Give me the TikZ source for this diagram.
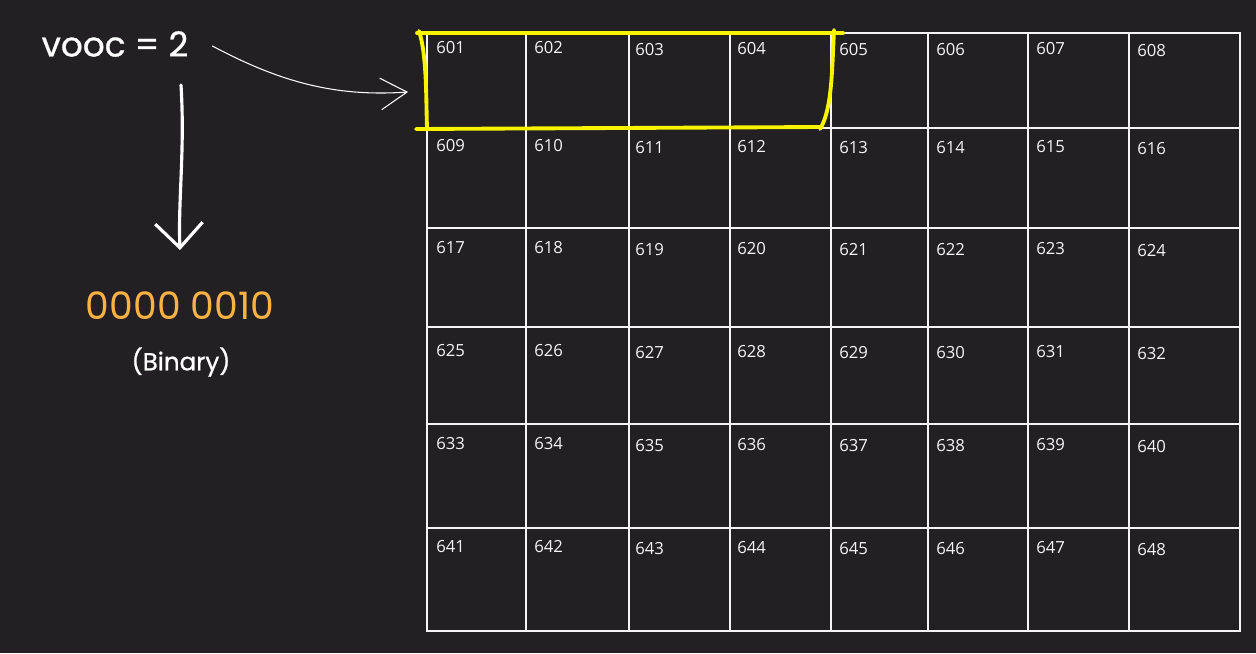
\documentclass[tikz,border=0pt]{standalone}
\usepackage{fontspec}
\setmainfont{Poppins}
\newfontfamily\cellfont{Open Sans}
\newfontfamily\chalkfont[FakeBold=0.8]{Poppins}
\usetikzlibrary{arrows.meta}
\definecolor{boardbg}{RGB}{34,32,34}
\definecolor{binorange}{RGB}{250,178,66}
\definecolor{markyellow}{RGB}{248,244,0}

\begin{document}
\begin{tikzpicture}[x=0.02cm,y=-0.02cm,
		gridline/.style={draw=white!92!gray,line width=1.1pt},
		cellnum/.style={anchor=north west,inner sep=0pt,text=white!92!gray,
		                font=\cellfont\fontsize{9.5}{10}\selectfont},
		chalk/.style={draw=white,line cap=round,line join=round}]
		\fill[boardbg] (0,0) rectangle (1256,653);
		
		% memory cells
		\foreach \ya/\yb/\ry [count=\j] in {33/128/8,128/228/11,228/327/13,327/424/17,424/528/13,528/631/12}
		\foreach \xa/\xb/\cx/\cy [count=\i] in {427/526/9/0,526/629/8/0,629/730/6/2,730/831/7/1,
		                                       831/928/8/2,928/1028/8/2,1028/1129/8/1,1129/1240/8/3}
		{
			\pgfmathtruncatemacro{\addr}{600+(\j-1)*8+\i}
			\draw[gridline] (\xa,\ya) rectangle (\xb,\yb);
			\node[cellnum] (c\addr) at (\xa+\cx,\ya+\ry+\cy) {\addr};
		}
		
		% the variable and its bits
		\begin{scope}[every node/.style={text=white,inner sep=1pt}]
			\node[font=\chalkfont\fontsize{19.5}{24}\selectfont] (vooc) at (115,44) {vooc = 2};
			\node[text=binorange,font=\fontsize{21.5}{24}\selectfont] (bits) at (180,306) {0000 0010};
			\node[font=\chalkfont\fontsize{14}{16}\selectfont] (binname) at (181,362) {(Binary)};
		\end{scope}
		
		\coordinate (downfrom) at (181,85);
		\coordinate (downto) at (180,250);
		\coordinate (cellsin) at (408,92);
		
		% hand drawn arrows
		\draw[chalk,line width=1.8pt,-{Straight Barb[length=14pt,width=27pt]}]
			(downfrom) .. controls (185,150) and (178,200) .. (downto);
		\draw[chalk,line width=0.6pt,-{Straight Barb[length=15pt,width=18pt]}]
			([xshift=0.44cm,yshift=-0.04cm]vooc.east) .. controls (280,82) and (335,97) .. (cellsin);
		
		% yellow mark round 601..604
		\begin{scope}[markyellow,line width=2.2pt,line cap=round]
			\draw (417,33) -- (843,33);
			\draw (419,31) .. controls (427,55) and (426,100) .. (427,128);
			\draw (416,129) -- (820,127);
			\draw (834,30) .. controls (832,70) and (832,110) .. (820,129);
		\end{scope}
\end{tikzpicture}
\end{document}
